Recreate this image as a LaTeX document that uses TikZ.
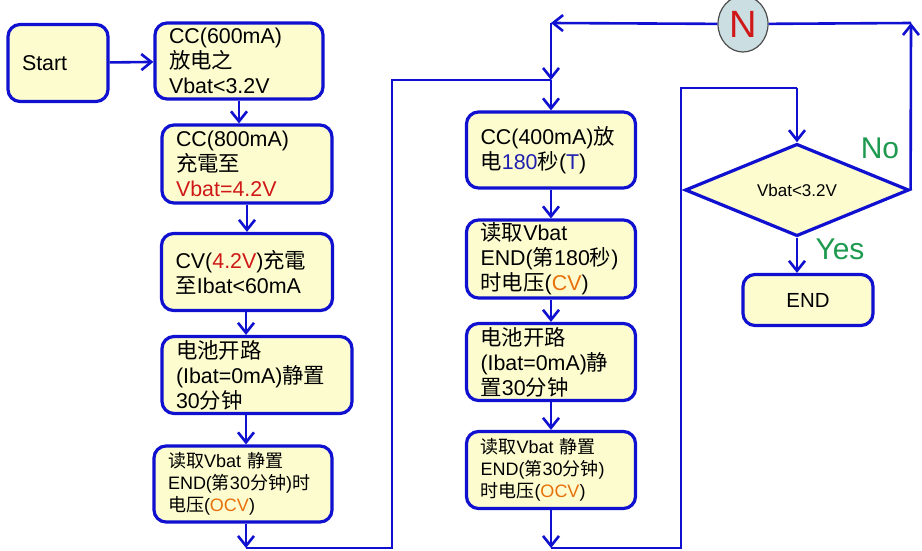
\documentclass[tikz,border=0pt]{standalone}
\usepackage{fontspec}
\setmainfont{Liberation Sans}
\newfontfamily\cjk{Noto Sans CJK SC}
\usepackage{tikz}
\usetikzlibrary{shapes.geometric}
\usetikzlibrary{positioning}
\usetikzlibrary{arrows.meta}

\definecolor{boxfill}{HTML}{FCFCCF}
\definecolor{lineblue}{HTML}{1010D0}
\definecolor{valred}{HTML}{D01818}
\definecolor{valorange}{HTML}{E8700A}
\definecolor{valblue}{HTML}{2020B0}
\definecolor{labgreen}{HTML}{1E9A50}
\definecolor{circfill}{HTML}{CBDFE2}
\newcommand{\zh}[1]{{\cjk #1}}

\tikzset{
	stepbox/.style={rectangle, rounded corners=6pt, draw=lineblue, line width=1.6pt, fill=boxfill, align=left, inner xsep=7pt, inner ysep=1pt, font=\fontsize{10.7}{12.5}\selectfont},
	smallbox/.style={stepbox, font=\fontsize{9}{11}\selectfont},
	flow/.style={draw=lineblue, line width=1.3pt},
}

\begin{document}
\begin{tikzpicture}[x=0.5pt,y=-0.5pt, >={Straight Barb[length=5pt,width=8pt]}]
	\useasboundingbox (0,0) rectangle (922,551);
	% left column
	\node [stepbox, minimum width=50pt, minimum height=38.5pt, text width=36pt] (start) at (58,63) {Start};
	\node [stepbox, minimum width=84pt, minimum height=38pt, text width=70pt] (cc600) at (239,61) {CC(600mA)\\\zh{放电之}\\Vbat<3.2V};
	\node [stepbox, minimum width=85pt, minimum height=39pt, text width=71pt] (cc800) at (247,164) {CC(800mA)\\\zh{充電至}\\\textcolor{valred}{Vbat=4.2V}};
	\node [stepbox, minimum width=85.5pt, minimum height=38.5pt, text width=71.5pt] (cv) at (247,272) {CV(\textcolor{valred}{4.2V})\zh{充電}\\\zh{至}Ibat<60mA};
	\node [stepbox, minimum width=95pt, minimum height=38.5pt, text width=81pt] (rest1) at (257,375) {\zh{电池开路}\\(Ibat=0mA)\zh{静置}\\30\zh{分钟}};
	\node [smallbox, minimum width=89pt, minimum height=38pt, text width=75pt] (read1) at (243,484) {\zh{读取}Vbat \zh{静置}\\END(\zh{第}30\zh{分钟})\zh{时}\\\zh{电压}(\textcolor{valorange}{OCV})};
	% middle column
	\node [stepbox, minimum width=84.5pt, minimum height=38pt, text width=70.5pt] (cc400) at (551,150) {CC(400mA)\zh{放}\\\zh{电}\textcolor{valblue}{180}\zh{秒}(\textcolor{valblue}{T})};
	\node [stepbox, minimum width=84.5pt, minimum height=39pt, text width=70.5pt] (read2) at (551,259) {\zh{读取}Vbat\\END(\zh{第}180\zh{秒})\\\zh{时电压}(\textcolor{valorange}{CV})};
	\node [stepbox, minimum width=84.5pt, minimum height=38.5pt, text width=70.5pt] (rest2) at (551,362) {\zh{电池开路}\\(Ibat=0mA)\zh{静}\\\zh{置}30\zh{分钟}};
	\node [smallbox, minimum width=84.5pt, minimum height=38.5pt, text width=70.5pt] (read3) at (551,470) {\zh{读取}Vbat \zh{静置}\\END(\zh{第}30\zh{分钟})\\\zh{时电压}(\textcolor{valorange}{OCV})};
	% right part
	\node [diamond, draw=lineblue, line width=1.6pt, fill=boxfill, inner sep=0pt, minimum width=112pt, minimum height=40pt, font=\fontsize{8.5}{10}\selectfont] (dia) at (797,190) {Vbat<3.2V};
	\node [stepbox, align=center, minimum width=65pt, minimum height=25.5pt, font=\fontsize{10.2}{12}\selectfont] (end) at (808,300) {END};
	\node [ellipse, draw=black!70, line width=0.6pt, fill=circfill, minimum width=25pt, minimum height=28pt, inner sep=0pt, text=valred, font=\fontsize{19}{19}\selectfont] (N) at (743,24) {N};
	\node [text=labgreen, font=\fontsize{15}{15}\selectfont] (no) at (880,148) {No};
	\node [text=labgreen, font=\fontsize{15}{15}\selectfont] (yes) at (840,249) {Yes};

	\coordinate (lbot) at (246,548);
	\coordinate (lright) at (392,548);
	\coordinate (ltop) at (392,80);
	\coordinate (join) at (551,80);
	\coordinate (topleft) at (551,23);
	\coordinate (topright) at (911,23);
	\coordinate (mbot) at (551,548);
	\coordinate (mright) at (681,548);
	\coordinate (mtop) at (681,88);
	\coordinate (dtop) at (797,88);

	\draw [flow,->] (start) -- (cc600);
	\draw [flow,->] (cc600.south) -- (cc600.south |- cc800.north);
	\draw [flow,->] (cc800) -- (cv);
	\draw [flow,->] (lbot |- cv.south) -- (lbot |- rest1.north);
	\draw [flow,->] (lbot |- rest1.south) -- (lbot |- read1.north);
	\draw [flow,->] (lbot |- read1.south) -- (lbot);
	\draw [flow] (lbot) -- (lright) -- (ltop) -- (join);
	\draw [flow,->] (topleft) -- (join);
	\draw [flow,->] (join) -- (cc400);
	\draw [flow,->] (cc400) -- (read2);
	\draw [flow,->] (read2) -- (rest2);
	\draw [flow,->] (rest2) -- (read3);
	\draw [flow,->] (read3) -- (mbot);
	\draw [flow] (mbot) -- (mright) -- (mtop) -- (dtop);
	\draw [flow,->] (dtop) -- (dia.north);
	\draw [flow,->] (dia.east) -- (topright);
	\draw [flow] (topright) -- (N);
	\draw [flow,->] (N) -- (topleft);
	\draw [flow,->] (dia.south) -- (dia.south |- end.north);
\end{tikzpicture}
\end{document}
